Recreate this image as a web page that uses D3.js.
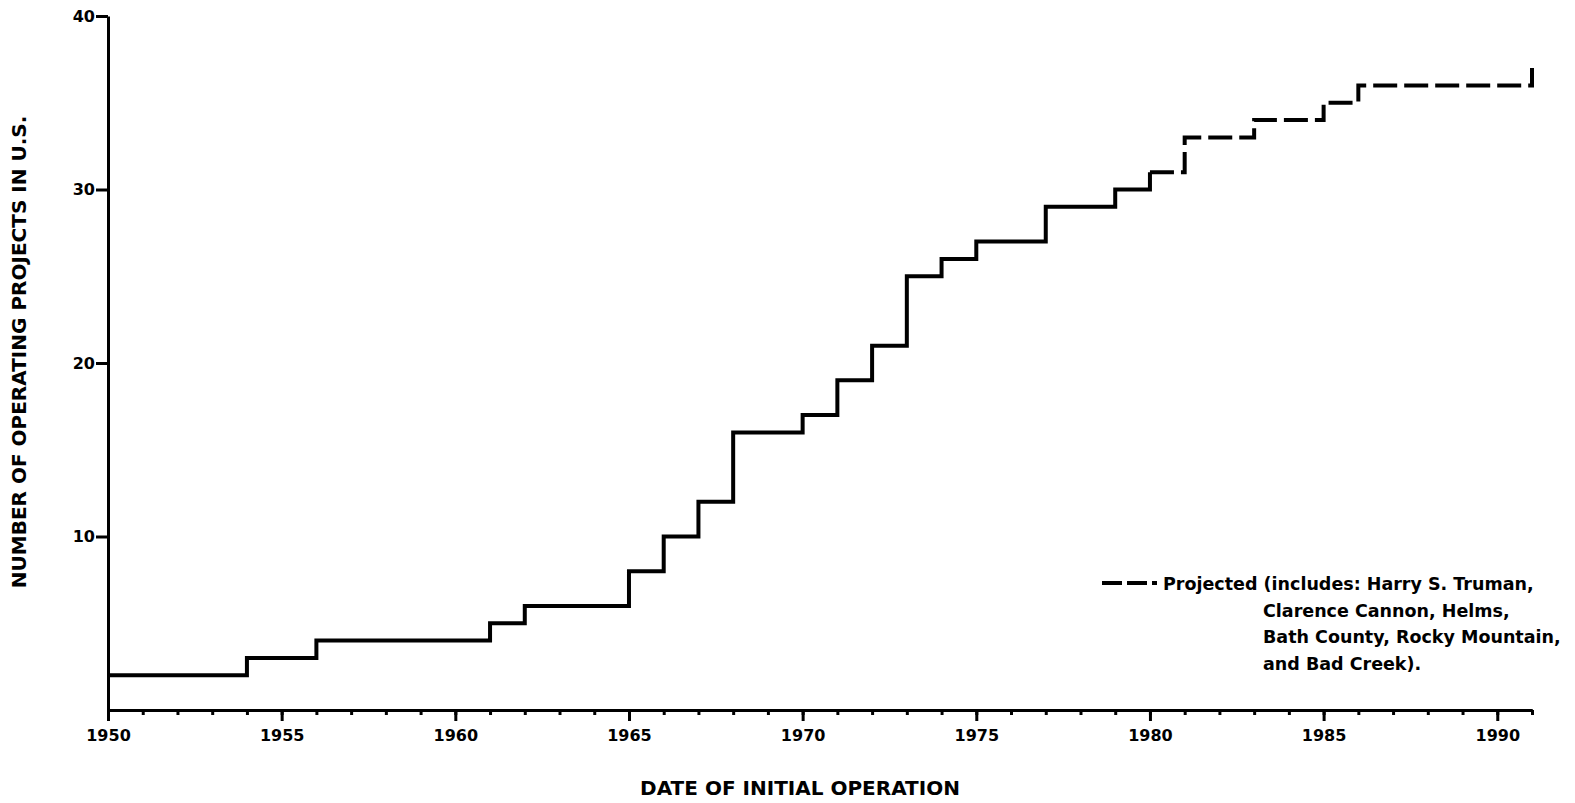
<!DOCTYPE html>
<html>
<head>
<meta charset="utf-8">
<script src="https://cdn.jsdelivr.net/npm/d3@7"></script>
<style>
    body { margin: 0; background: #fff; }
    svg { display: block; background: #fff; }
    text { font-family: 'DejaVu Sans', 'Liberation Sans', sans-serif; font-weight: bold; fill: #000; }
    .axis path, .axis line { stroke: #000; stroke-width: 3; }
    .step { fill: none; stroke: #000; stroke-width: 4; stroke-linejoin: miter; }
</style>
</head>
<body>
<svg id="chart" width="1575" height="803"></svg>
<script>
// Projects in operation (historical part, solid line)
const builtYears = [1950, 1954, 1956, 1961, 1962, 1965, 1966, 1967, 1968, 1970, 1971, 1972, 1973, 1974, 1975, 1977, 1979, 1980]
const builtCounts = [2, 3, 4, 5, 6, 8, 10, 12, 16, 17, 19, 21, 25, 26, 27, 29, 30, 31]

// Projected part (dashed line)
const projectedYears = [1980, 1981, 1983, 1985, 1986, 1991]
const projectedCounts = [31, 33, 34, 35, 36, 37]

// Axis ticks
const yearLabels = [1950, 1955, 1960, 1965, 1970, 1975, 1980, 1985, 1990]
const countLabels = [10, 20, 30, 40]

const legendLines = [
    'Projected (includes: Harry S. Truman,',
    'Clarence Cannon, Helms,',
    'Bath County, Rocky Mountain,',
    'and Bad Creek).'
]

const ctx = {}
ctx.svg = d3.select('#chart')
ctx.x = d3.scaleLinear().domain([1950, 1991]).range([108, 1532])
ctx.y = d3.scaleLinear().domain([0, 40]).range([710, 16])

const drawAxes = () => {
    // Small ticks every year, no labels
    const minorAxis = d3.axisBottom(ctx.x)
        .tickValues(d3.range(1950, 1992))
        .tickSize(5)
        .tickSizeOuter(0)
        .tickFormat('')

    ctx.svg.append('g')
        .attr('class', 'axis')
        .attr('transform', `translate(0,${ctx.y(0)})`)
        .call(minorAxis)

    // Labelled ticks every 5 years
    const majorAxis = d3.axisBottom(ctx.x)
        .tickValues(yearLabels)
        .tickSize(11)
        .tickSizeOuter(0)
        .tickPadding(9)
        .tickFormat(d3.format('d'))

    const xg = ctx.svg.append('g')
        .attr('class', 'axis')
        .attr('transform', `translate(0,${ctx.y(0)})`)
        .call(majorAxis)
    xg.selectAll('text').attr('font-size', 16).attr('font-family', null)

    const yAxis = d3.axisLeft(ctx.y)
        .tickValues(countLabels)
        .tickSize(12)
        .tickSizeOuter(0)
        .tickPadding(1)

    const yg = ctx.svg.append('g')
        .attr('class', 'axis')
        .attr('transform', `translate(${ctx.x(1950)},0)`)
        .call(yAxis)
    yg.selectAll('text').attr('font-size', 16).attr('font-family', null)

    // Axis titles
    ctx.svg.append('text')
        .attr('transform', 'translate(26,352) rotate(-90)')
        .attr('text-anchor', 'middle')
        .attr('font-size', 20)
        .text('NUMBER OF OPERATING PROJECTS IN U.S.')

    ctx.svg.append('text')
        .attr('x', 800)
        .attr('y', 795)
        .attr('text-anchor', 'middle')
        .attr('font-size', 20)
        .text('DATE OF INITIAL OPERATION')
}

const drawSteps = () => {
    const line = d3.line()
        .x(d => ctx.x(d[0]))
        .y(d => ctx.y(d[1]))
        .curve(d3.curveStepAfter)

    const built = d3.zip(builtYears, builtCounts)
    const projected = d3.zip(projectedYears, projectedCounts)

    ctx.svg.append('path')
        .attr('class', 'step')
        .attr('d', line(built))

    ctx.svg.append('path')
        .attr('class', 'step')
        .attr('stroke-dasharray', '24,7')
        .attr('d', line(projected))
}

const drawLegend = () => {
    ctx.svg.append('line')
        .attr('x1', 1102)
        .attr('x2', 1157)
        .attr('y1', 583)
        .attr('y2', 583)
        .attr('stroke', '#000')
        .attr('stroke-width', 4)
        .attr('stroke-dasharray', '20,5')

    ctx.svg.selectAll('.legend-text')
        .data(legendLines)
        .enter()
        .append('text')
        .attr('class', 'legend-text')
        .attr('x', (d, i) => i === 0 ? 1163 : 1263)
        .attr('y', (d, i) => 590 + i * 26.5)
        .attr('font-size', 17.5)
        .text(d => d)
}

drawAxes()
drawSteps()
drawLegend()
</script>
</body>
</html>
